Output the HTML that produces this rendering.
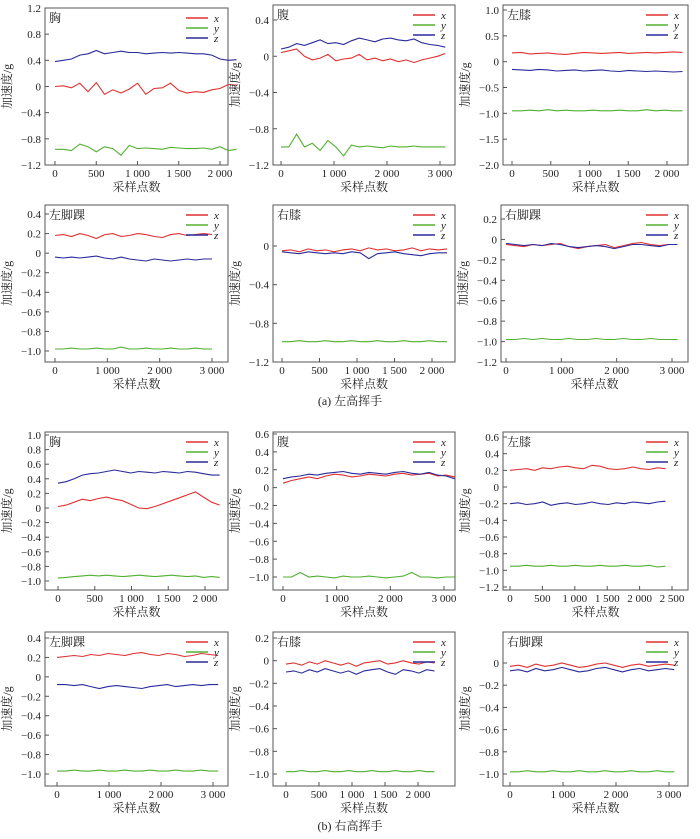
<!DOCTYPE html>
<html><head><meta charset="utf-8"><style>
body{margin:0;background:#fff}
svg text{font-family:"Liberation Serif","Noto Serif CJK SC",serif;fill:#222}
</style></head><body>
<svg id="fig" width="700" height="834" viewBox="0 0 700 834" xmlns="http://www.w3.org/2000/svg"></svg>
<script>
// ---- data ----
const titles=["胸","腹","左膝","左脚踝","右膝","右脚踝","胸","腹","左膝","左脚踝","右膝","右脚踝"];
const sampleCounts=[2200,3100,2200,3000,2200,3100,2200,3200,2400,3100,2250,3100];
const yTicks=[[1.2,0.8,0.4,0,-0.4,-0.8,-1.2],[0.4,0,-0.4,-0.8,-1.2],[1.0,0.5,0,-0.5,-1.0,-1.5,-2.0],
[0.4,0.2,0,-0.2,-0.4,-0.6,-0.8,-1.0],[0,-0.4,-0.8,-1.2],[0.2,0,-0.2,-0.4,-0.6,-0.8,-1.0,-1.2],
[1.0,0.8,0.6,0.4,0.2,0,-0.2,-0.4,-0.6,-0.8,-1.0],[0.6,0.4,0.2,0,-0.2,-0.4,-0.6,-0.8,-1.0],[0.6,0.4,0.2,0,-0.2,-0.4,-0.6,-0.8,-1.0,-1.2],
[0.4,0.2,0,-0.2,-0.4,-0.6,-0.8,-1.0],[0.2,0,-0.2,-0.4,-0.6,-0.8,-1.0],[0,-0.2,-0.4,-0.6,-0.8,-1.0]];
const xTicks=[[0,500,1000,1500,2000],[0,1000,2000,3000],[0,500,1000,1500,2000],[0,1000,2000,3000],[0,500,1000,1500,2000],[0,1000,2000,3000],
[0,500,1000,1500,2000],[0,1000,2000,3000],[0,500,1000,1500,2000,2500],[0,1000,2000,3000],[0,500,1000,1500,2000],[0,1000,2000,3000]];
const seriesX=[
[0,0.01,-0.02,0.05,-0.08,0.06,-0.12,-0.05,-0.1,-0.04,0.05,-0.12,-0.03,-0.02,0.05,-0.06,-0.1,-0.08,-0.09,-0.05,-0.03,0.03,0.02],
[0.04,0.06,0.08,0.0,-0.04,-0.02,0.02,-0.05,-0.03,-0.02,0.02,-0.04,-0.02,-0.05,-0.03,-0.06,-0.04,-0.07,-0.04,-0.02,0.0,0.03],
[0.17,0.18,0.15,0.16,0.17,0.15,0.14,0.16,0.18,0.17,0.16,0.17,0.18,0.16,0.17,0.18,0.17,0.18,0.19,0.18],
[0.18,0.19,0.17,0.2,0.18,0.15,0.19,0.2,0.17,0.18,0.2,0.19,0.17,0.16,0.19,0.2,0.18,0.19,0.2,0.19],
[-0.05,-0.04,-0.06,-0.03,-0.05,-0.04,-0.06,-0.04,-0.03,-0.05,-0.02,-0.04,-0.03,-0.05,-0.04,-0.02,-0.05,-0.03,-0.04,-0.03],
[-0.05,-0.06,-0.07,-0.05,-0.06,-0.05,-0.04,-0.07,-0.09,-0.07,-0.06,-0.05,-0.08,-0.06,-0.04,-0.03,-0.05,-0.06,-0.05,-0.05],
[0.02,0.04,0.08,0.12,0.1,0.13,0.15,0.12,0.1,0.05,0.0,-0.01,0.02,0.06,0.1,0.14,0.18,0.22,0.15,0.08,0.04],
[0.05,0.08,0.1,0.12,0.1,0.13,0.15,0.14,0.12,0.13,0.15,0.14,0.13,0.15,0.16,0.14,0.15,0.16,0.13,0.14,0.12],
[0.2,0.21,0.22,0.2,0.23,0.22,0.24,0.25,0.23,0.22,0.26,0.25,0.22,0.21,0.22,0.24,0.22,0.21,0.23,0.22],
[0.2,0.21,0.22,0.21,0.23,0.22,0.24,0.23,0.22,0.24,0.25,0.23,0.22,0.24,0.23,0.21,0.22,0.24,0.23,0.22],
[-0.03,-0.02,-0.04,-0.01,-0.03,0.0,-0.02,-0.04,-0.02,-0.05,-0.02,-0.01,0.0,-0.03,-0.02,0.0,-0.02,-0.03,-0.01,-0.02],
[-0.03,-0.02,-0.04,-0.01,-0.03,-0.02,0.0,-0.02,-0.04,-0.03,-0.01,0.0,-0.02,-0.04,-0.02,-0.01,-0.03,-0.02,-0.01,-0.02]];
const seriesY=[
[-0.96,-0.96,-0.98,-0.88,-0.92,-1.0,-0.92,-0.95,-1.05,-0.9,-0.95,-0.94,-0.95,-0.96,-0.93,-0.94,-0.95,-0.95,-0.94,-0.96,-0.92,-0.98,-0.96],
[-1.0,-1.0,-0.86,-1.0,-0.96,-1.04,-0.93,-1.0,-1.1,-0.98,-1.0,-0.99,-1.0,-1.01,-0.99,-1.0,-1.0,-0.99,-1.0,-1.0,-1.0,-1.0],
[-0.95,-0.95,-0.94,-0.95,-0.93,-0.95,-0.94,-0.95,-0.95,-0.94,-0.95,-0.95,-0.94,-0.95,-0.95,-0.93,-0.95,-0.94,-0.95,-0.95],
[-0.98,-0.98,-0.97,-0.98,-0.98,-0.97,-0.98,-0.98,-0.96,-0.98,-0.98,-0.97,-0.98,-0.98,-0.97,-0.98,-0.98,-0.97,-0.98,-0.98],
[-0.99,-0.99,-0.98,-0.99,-0.99,-0.98,-0.99,-0.99,-0.98,-0.99,-0.99,-0.98,-0.99,-0.99,-0.98,-0.99,-0.99,-0.98,-0.99,-0.99],
[-0.98,-0.98,-0.97,-0.98,-0.97,-0.98,-0.98,-0.97,-0.98,-0.98,-0.97,-0.98,-0.98,-0.97,-0.98,-0.98,-0.97,-0.98,-0.98,-0.98],
[-0.96,-0.95,-0.94,-0.93,-0.92,-0.93,-0.92,-0.93,-0.94,-0.93,-0.92,-0.93,-0.94,-0.93,-0.92,-0.93,-0.94,-0.93,-0.95,-0.94,-0.95],
[-1.0,-1.0,-0.95,-1.0,-0.99,-1.0,-1.01,-0.99,-1.0,-1.0,-0.99,-1.0,-1.01,-1.0,-0.99,-0.95,-1.0,-1.0,-1.01,-1.0,-1.0],
[-0.95,-0.95,-0.94,-0.95,-0.95,-0.94,-0.95,-0.95,-0.94,-0.95,-0.95,-0.94,-0.95,-0.95,-0.94,-0.95,-0.95,-0.94,-0.96,-0.95],
[-0.97,-0.97,-0.96,-0.97,-0.97,-0.96,-0.97,-0.97,-0.96,-0.97,-0.97,-0.96,-0.97,-0.97,-0.96,-0.97,-0.97,-0.96,-0.97,-0.97],
[-0.98,-0.98,-0.97,-0.98,-0.98,-0.97,-0.98,-0.98,-0.97,-0.98,-0.98,-0.97,-0.98,-0.98,-0.97,-0.98,-0.98,-0.97,-0.98,-0.98],
[-0.98,-0.98,-0.97,-0.98,-0.98,-0.97,-0.98,-0.98,-0.97,-0.98,-0.98,-0.97,-0.98,-0.98,-0.97,-0.98,-0.98,-0.97,-0.98,-0.98]];
const seriesZ=[
[0.38,0.4,0.42,0.48,0.5,0.55,0.5,0.52,0.54,0.52,0.52,0.5,0.51,0.52,0.51,0.52,0.51,0.5,0.5,0.48,0.42,0.4,0.41],
[0.08,0.1,0.14,0.12,0.15,0.18,0.14,0.15,0.13,0.17,0.2,0.18,0.16,0.19,0.2,0.18,0.17,0.19,0.15,0.13,0.12,0.1],
[-0.15,-0.16,-0.17,-0.15,-0.16,-0.18,-0.17,-0.16,-0.18,-0.17,-0.16,-0.18,-0.19,-0.17,-0.18,-0.19,-0.18,-0.19,-0.2,-0.19],
[-0.04,-0.05,-0.04,-0.05,-0.04,-0.03,-0.05,-0.06,-0.04,-0.06,-0.07,-0.08,-0.06,-0.07,-0.08,-0.07,-0.06,-0.07,-0.06,-0.06],
[-0.06,-0.07,-0.08,-0.06,-0.07,-0.08,-0.07,-0.08,-0.06,-0.07,-0.13,-0.08,-0.07,-0.06,-0.08,-0.09,-0.1,-0.08,-0.07,-0.07],
[-0.04,-0.05,-0.06,-0.05,-0.06,-0.04,-0.05,-0.07,-0.08,-0.07,-0.06,-0.07,-0.09,-0.07,-0.05,-0.05,-0.06,-0.07,-0.05,-0.05],
[0.34,0.36,0.4,0.45,0.47,0.48,0.5,0.52,0.5,0.48,0.5,0.49,0.48,0.5,0.49,0.48,0.5,0.49,0.47,0.45,0.45],
[0.1,0.12,0.13,0.15,0.14,0.16,0.17,0.18,0.16,0.15,0.17,0.16,0.15,0.17,0.18,0.16,0.15,0.17,0.14,0.13,0.1],
[-0.2,-0.19,-0.21,-0.2,-0.18,-0.22,-0.2,-0.19,-0.21,-0.2,-0.18,-0.2,-0.21,-0.19,-0.2,-0.18,-0.19,-0.2,-0.18,-0.17],
[-0.08,-0.08,-0.09,-0.08,-0.1,-0.12,-0.1,-0.09,-0.1,-0.11,-0.12,-0.1,-0.09,-0.08,-0.1,-0.09,-0.08,-0.09,-0.08,-0.08],
[-0.1,-0.09,-0.11,-0.08,-0.1,-0.07,-0.09,-0.11,-0.09,-0.12,-0.09,-0.08,-0.07,-0.1,-0.12,-0.08,-0.09,-0.11,-0.08,-0.09],
[-0.07,-0.06,-0.08,-0.05,-0.07,-0.06,-0.04,-0.06,-0.08,-0.07,-0.05,-0.04,-0.06,-0.08,-0.06,-0.05,-0.07,-0.06,-0.05,-0.06]];
// ---- layout (pixel geometry, not data) ----
const boxes=[[45,8,228,165],[273,5,455,165],[503,5,688,165],[45,205,228,362],[273,205,455,362],[501,205,688,362],
[45,432,228,590],[273,432,455,590],[503,432,688,590],[45,632,228,786],[273,632,455,786],[503,632,688,786]];
const yPix=[[1.2,8,-1.2,165],[0.4,20,-1.2,165],[1.0,10,-2.0,165],[0.4,214,-1.0,351],[0,246,-1.2,362],[0.2,219,-1.2,362],
[1.0,435,-1.0,581],[0.6,434,-1.0,577],[0.6,437,-1.2,587],[0.4,638,-1.0,774],[0.2,638,-1.0,774],[0,663,-1.0,774]];
const xPix=[[0,55,2000,220],[0,281,3000,440],[0,512,2000,667],[0,55,3000,212],[0,282,2000,432],[0,506,3000,672],
[0,58,2000,205],[0,283,3000,444],[0,510,2500,672],[0,57,3000,213],[0,286,2000,418],[0,510,3000,669]];
const NS="http://www.w3.org/2000/svg";
const svg=document.getElementById('fig');
function mk(tag,attrs,parent,txt){const e=document.createElementNS(NS,tag);for(const k in attrs)e.setAttribute(k,attrs[k]);if(txt!==undefined)e.textContent=txt;parent.appendChild(e);return e;}
function fmt(v){
  if(v===0)return "0";
  let s;
  if(Math.abs(v)>=1000)s=String(v).replace(/(\d)(\d{3})$/,"$1 $2");
  else if(Math.abs(v)>=100)s=String(v);
  else if(Number.isInteger(v))s=v.toFixed(1);
  else s=String(v);
  return s.replace("-","−");
}
const colors=["#e03030","#50b030","#2a2a9a"];
for(let i=0;i<12;i++){
  const [l,t,r,b]=boxes[i];
  const g=mk('g',{},svg);
  
  
  const [v1,p1,v2,p2]=yPix[i];const ys=v=>p1+(v-v1)*(p2-p1)/(v2-v1);
  const [u1,q1,u2,q2]=xPix[i];const xs=v=>q1+(v-u1)*(q2-q1)/(u2-u1);
  const fr=mk('rect',{x:l,y:t,width:r-l,height:b-t,fill:'none',stroke:'#555','stroke-width':1},g);
  
  yTicks[i].forEach(v=>{const y=ys(v);mk('line',{x1:l,x2:l+4,y1:y,y2:y,stroke:'#555'},g);
    const tx=mk('text',{x:l-4,y:y+4,'text-anchor':'end','font-size':11},g,fmt(v));
    });
  xTicks[i].forEach(v=>{const x=xs(v);mk('line',{x1:x,x2:x,y1:b,y2:b-4,stroke:'#555'},g);
    const tx=mk('text',{x:x,y:b+12,'text-anchor':'middle','font-size':11},g,fmt(v));
    });
  const tt=mk('text',{x:l+4,y:t+14,'font-size':12},g,titles[i]);
  
  const yl=mk('text',{transform:`translate(${l-34},${(t+b)/2}) rotate(-90)`,'text-anchor':'middle','font-size':12},g,'加速度/g');
  
  const xl=mk('text',{x:(l+r)/2,y:b+26,'text-anchor':'middle','font-size':12},g,'采样点数');
  
  [seriesX[i],seriesY[i],seriesZ[i]].forEach((arr,k)=>{
    const n=arr.length;const pts=arr.map((v,j)=>xs(j*sampleCounts[i]/(n-1)).toFixed(1)+','+ys(v).toFixed(1)).join(' ');
    const pl=mk('polyline',{points:pts,fill:'none',stroke:colors[k],'stroke-width':1.1},g);
    
    const ly=t+10+k*10;
    mk('line',{x1:r-42,x2:r-20,y1:ly,y2:ly,stroke:colors[k],'stroke-width':1.5},g);
    const lt=mk('text',{x:r-14,y:ly+4,'font-size':11,'font-style':'italic'},g,['x','y','z'][k]);
    
  });
}
const c1=mk('text',{x:350,y:405,'text-anchor':'middle','font-size':12},svg,'(a) 左高挥手');

const c2=mk('text',{x:350,y:830,'text-anchor':'middle','font-size':12},svg,'(b) 右高挥手');

</script>
</body></html>
